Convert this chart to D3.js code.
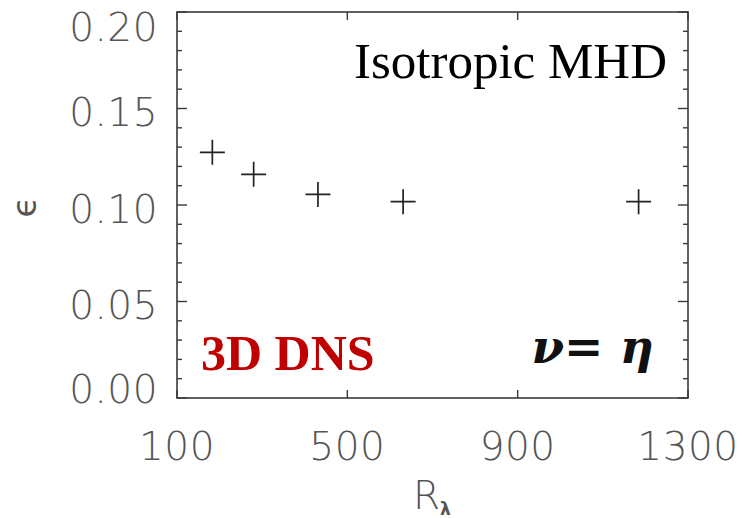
<!DOCTYPE html>
<html><head><meta charset="utf-8">
<script src="https://cdn.jsdelivr.net/npm/d3@7"></script>
<style>
html,body{margin:0;padding:0;background:#fff;}
svg{display:block;}
</style></head>
<body>
<script>
// Data
const reynolds = [183, 280, 431, 631, 1184];
const epsilon = [0.1273, 0.1159, 0.1055, 0.1017, 0.1017];
const xTickValues = [100, 500, 900, 1300];
const xTickLabels = ["100", "500", "900", "1300"];
const yTickValues = [0.00, 0.05, 0.10, 0.15, 0.20];
const yTickLabels = ["0.00", "0.05", "0.10", "0.15", "0.20"];
const yMinorValues = d3.range(0, 21).map(i => i / 100);

const W = 744, H = 518;
const m = {left: 177, right: 744 - 688, top: 12, bottom: 518 - 398};

const svg = d3.select("body").append("svg").attr("width", W).attr("height", H);

const x = d3.scaleLinear().domain([100, 1300]).range([m.left, W - m.right]);
const y = d3.scaleLinear().domain([0, 0.20]).range([H - m.bottom, m.top]);

const axisColor = "#3a3a3a";
const labelColor = "#555";
const tickFont = "'DejaVu Sans', sans-serif";
const tickSize = 39;

// frame
svg.append("rect").attr("x", x(100)).attr("y", y(0.20))
  .attr("width", x(1300) - x(100)).attr("height", y(0) - y(0.20))
  .attr("fill", "none").attr("stroke", axisColor).attr("stroke-width", 1.6);

// y ticks (left and right)
const yMinorTicks = yMinorValues.filter(v => Math.round(v * 100) % 5 !== 0);
const yMajorTicks = yTickValues;
function drawYTicks(x0, dir) {
  svg.append("g").selectAll("line.minor").data(yMinorTicks).join("line")
    .attr("x1", x0).attr("x2", x0 + dir * 5)
    .attr("y1", d => y(d)).attr("y2", d => y(d))
    .attr("stroke", axisColor).attr("stroke-width", 1.4);
  svg.append("g").selectAll("line.major").data(yMajorTicks).join("line")
    .attr("x1", x0).attr("x2", x0 + dir * 10)
    .attr("y1", d => y(d)).attr("y2", d => y(d))
    .attr("stroke", axisColor).attr("stroke-width", 1.4);
}
drawYTicks(x(100), 1);
drawYTicks(x(1300), -1);

// x ticks (bottom and top)
function drawXTicks(y0, dir) {
  svg.append("g").selectAll("line").data(xTickValues).join("line")
    .attr("x1", d => x(d)).attr("x2", d => x(d))
    .attr("y1", y0).attr("y2", y0 + dir * 8)
    .attr("stroke", axisColor).attr("stroke-width", 1.4);
}
drawXTicks(y(0), -1);
drawXTicks(y(0.20), 1);

// y tick labels (end labels kept inside the frame, as IDL does)
svg.append("g").selectAll("text").data(yTickValues).join("text")
  .attr("x", 158)
  .attr("y", d => Math.max(y(0.20) + 28.7, Math.min(y(0) + 5, y(d) + 17.5)))
  .attr("text-anchor", "end")
  .attr("font-family", tickFont).attr("font-weight", 200)
  .attr("font-size", tickSize).attr("letter-spacing", 0.5)
  .attr("fill", labelColor)
  .text((d, i) => yTickLabels[i]);

// x tick labels
svg.append("g").selectAll("text").data(xTickValues).join("text")
  .attr("x", d => x(d)).attr("y", 460)
  .attr("text-anchor", "middle")
  .attr("font-family", tickFont).attr("font-weight", 200)
  .attr("font-size", tickSize).attr("letter-spacing", 0.5)
  .attr("fill", labelColor)
  .text((d, i) => xTickLabels[i]);

// axis titles
const xt = svg.append("text").attr("x", 413).attr("y", 509)
  .attr("font-family", tickFont).attr("font-weight", 200)
  .attr("font-size", tickSize).attr("fill", labelColor);
xt.append("tspan").text("R");
xt.append("tspan").attr("dy", 6).attr("font-size", 17).attr("font-weight", 700).text("λ");

svg.append("text")
  .attr("transform", "translate(36,207) rotate(-90)")
  .attr("text-anchor", "middle")
  .attr("font-family", tickFont).attr("font-size", 34).attr("fill", labelColor)
  .text("ϵ");

// data crosses
const arm = 12.5;
svg.append("g").selectAll("path").data(reynolds).join("path")
  .attr("d", (d, i) => {
    const cx = x(d), cy = y(epsilon[i]);
    return `M${cx - arm},${cy}H${cx + arm}M${cx},${cy - arm}V${cy + arm}`;
  })
  .attr("stroke", "#222").attr("stroke-width", 1.7).attr("fill", "none");

// annotations
svg.append("text").attr("x", 667).attr("y", 78).attr("text-anchor", "end")
  .attr("font-family", "'Liberation Serif', 'Times New Roman', serif")
  .attr("font-size", 51).attr("fill", "#000").text("Isotropic MHD");

svg.append("text").attr("x", 201).attr("y", 370)
  .attr("font-family", "'Liberation Serif', 'Times New Roman', serif")
  .attr("font-weight", "bold").attr("font-size", 50).attr("fill", "#c00000").text("3D DNS");

svg.append("text").attr("x", 654).attr("y", 363).attr("text-anchor", "end")
  .attr("font-family", "'DejaVu Serif', 'Liberation Serif', serif")
  .attr("font-style", "italic").attr("font-weight", "bold")
  .attr("font-size", 47).attr("fill", "#111").text("ν= η");
</script>
</body></html>
